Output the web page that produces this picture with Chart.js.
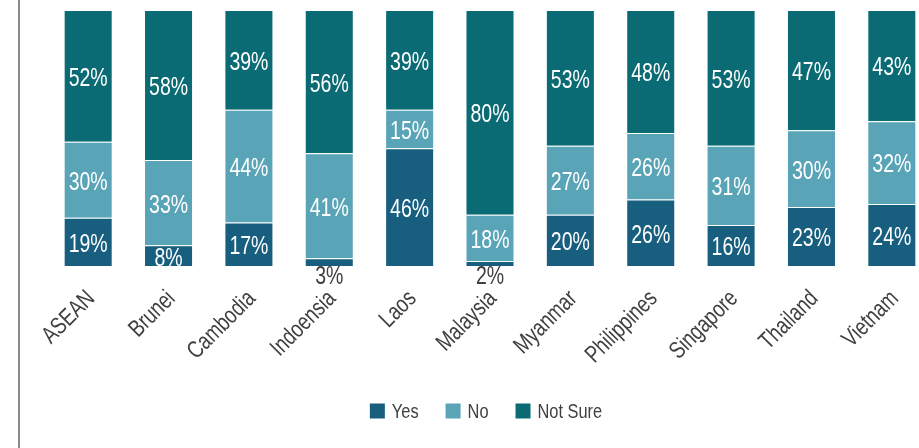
<!DOCTYPE html>
<html>
<head>
<meta charset="utf-8">
<script src="https://cdn.jsdelivr.net/npm/chart.js@4.4.1/dist/chart.umd.min.js"></script>
<style>
  html, body { margin: 0; padding: 0; background: #ffffff; overflow: hidden; }
  #wrap { position: absolute; left: 0; top: 0; width: 932px; height: 448px; }
</style>
</head>
<body>
<div id="wrap"><canvas id="c" width="932" height="448"></canvas></div>
<script>
const categories = ["ASEAN", "Brunei", "Cambodia", "Indoensia", "Laos", "Malaysia", "Myanmar", "Philippines", "Singapore", "Thailand", "Vietnam"];
const seriesNames = ["Yes", "No", "Not Sure"];
const yesValues = [19, 8, 17, 3, 46, 2, 20, 26, 16, 23, 24];
const noValues = [30, 33, 44, 41, 15, 18, 27, 26, 31, 30, 32];
const notSureValues = [52, 58, 39, 56, 39, 80, 53, 48, 53, 47, 43];
const colors = ["#175e7f", "#5aa4b7", "#0b6b74"];

const FONT = "'Liberation Sans', Arial, sans-serif";
const NARROW = 0.78;   // horizontal squeeze to mimic a narrow typeface
const raw = [yesValues, noValues, notSureValues];
const totals = categories.map((_, i) => raw.reduce((s, arr) => s + arr[i], 0));
// 100% stacked: normalise each column to its total
const datasets = raw.map((arr, k) => ({
  label: seriesNames[k],
  data: arr.map((v, i) => v / totals[i] * 100),
  rawValues: arr,
  backgroundColor: colors[k],
  borderColor: 'rgba(255,255,255,0.35)',
  borderWidth: 1,
  categoryPercentage: 0.61,
  barPercentage: 1.0
}));

function narrowText(ctx, txt, x, y, angle, align) {
  ctx.save();
  ctx.translate(x, y);
  if (angle) ctx.rotate(angle);
  ctx.scale(NARROW, 1);
  ctx.textAlign = align || 'center';
  ctx.fillText(txt, 0, 0);
  ctx.restore();
}

const textPlugin = {
  id: 'textPlugin',
  afterDatasetsDraw(chart) {
    const ctx = chart.ctx;
    ctx.save();
    ctx.font = "25px " + FONT;
    ctx.textBaseline = 'middle';
    chart.data.datasets.forEach((ds, di) => {
      const meta = chart.getDatasetMeta(di);
      meta.data.forEach((el, i) => {
        const v = ds.rawValues[i];
        const txt = v + '%';
        if (v < 5) {
          ctx.fillStyle = '#404040';
          narrowText(ctx, txt, el.x, el.base + 11, 0, 'center');
        } else {
          ctx.fillStyle = '#ffffff';
          narrowText(ctx, txt, el.x, (el.y + el.base) / 2 + 3, 0, 'center');
        }
      });
    });
    ctx.restore();
  },
  afterDraw(chart) {
    const ctx = chart.ctx;
    const xs = chart.scales.x;
    const area = chart.chartArea;
    ctx.save();
    // category labels, rotated 45 degrees
    ctx.font = "24px " + FONT;
    ctx.fillStyle = '#404040';
    ctx.textBaseline = 'middle';
    chart.data.labels.forEach((lab, i) => {
      const x = xs.getPixelForTick(i);
      narrowText(ctx, lab, x + 3, area.bottom + 29, -Math.PI / 4, 'right');
    });
    // legend
    ctx.font = "21px " + FONT;
    const box = 15, gapBox = 7, gapItem = 27;
    const items = chart.data.datasets.map(ds => ({
      label: ds.label, color: ds.backgroundColor,
      w: ctx.measureText(ds.label).width * NARROW
    }));
    const total = items.reduce((s, it) => s + box + gapBox + it.w, 0) + gapItem * (items.length - 1);
    let lx = 486 - total / 2;
    const ly = 411;
    items.forEach(it => {
      ctx.fillStyle = it.color;
      ctx.fillRect(lx, ly - box / 2, box, box);
      ctx.fillStyle = '#404040';
      narrowText(ctx, it.label, lx + box + gapBox, ly + 1, 0, 'left');
      lx += box + gapBox + it.w + gapItem;
    });
    // left frame line
    ctx.fillStyle = '#8a8a8a';
    ctx.fillRect(18, 0, 2, chart.height);
    ctx.restore();
  }
};

new Chart(document.getElementById('c'), {
  type: 'bar',
  data: { labels: categories, datasets: datasets },
  plugins: [textPlugin],
  options: {
    responsive: false,
    animation: false,
    devicePixelRatio: 1,
    layout: { padding: { left: 48, right: 0, top: 10, bottom: 82 } },
    plugins: {
      tooltip: { enabled: false },
      legend: { display: false }
    },
    scales: {
      x: {
        stacked: true,
        grid: { display: false },
        border: { display: false },
        ticks: { display: false, autoSkip: false },
        afterFit(scale) { scale.height = 100; }
      },
      y: {
        stacked: true,
        display: false,
        min: 0,
        max: 100
      }
    }
  }
});
</script>
</body>
</html>
